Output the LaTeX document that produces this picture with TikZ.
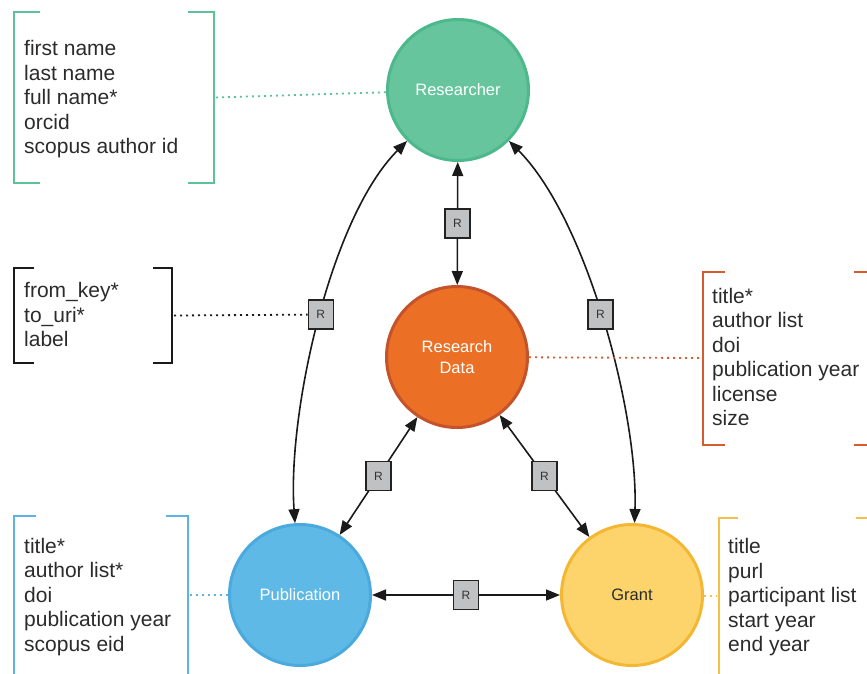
\documentclass[tikz,border=0pt]{standalone}
\usepackage{fontspec}
\setmainfont{Liberation Sans}
\usetikzlibrary{arrows.meta}
\definecolor{gfill}{HTML}{67C59D}
\definecolor{gline}{HTML}{4CB88B}
\definecolor{gbr}{HTML}{5CC29A}
\definecolor{ofill}{HTML}{EC6F26}
\definecolor{oline}{HTML}{C4532B}
\definecolor{obr}{HTML}{D65B2D}
\definecolor{bfill}{HTML}{5EB9E7}
\definecolor{bline}{HTML}{4AA9DD}
\definecolor{bbr}{HTML}{5FB3E2}
\definecolor{yfill}{HTML}{FCD46B}
\definecolor{yline}{HTML}{F3B733}
\definecolor{ybr}{HTML}{F5C04A}
\definecolor{rgray}{HTML}{C0C1C3}
\definecolor{rline}{HTML}{222222}
\definecolor{rtext}{HTML}{333333}
\definecolor{arrowc}{HTML}{1A1A1A}
\definecolor{textc}{HTML}{2B2B2B}
\begin{document}
\begin{tikzpicture}[x=1pt,y=1pt,
  entity/.style={circle, minimum size=141pt, line width=3pt, inner sep=0pt,
    font=\fontsize{16.5}{21}\selectfont, align=center},
  rbox/.style={draw=rline, fill=rgray, line width=1.4pt, minimum width=25pt,
    minimum height=29pt, inner sep=0pt, font=\fontsize{12}{12}\selectfont, text=rtext},
  rel/.style={line width=1.6pt, draw=arrowc,
    {Triangle[length=14pt,width=11pt]}-{Triangle[length=14pt,width=11pt]}},
  attr/.style={anchor=base west, align=left, inner sep=0pt,
    font=\fontsize{21}{24.5}\selectfont, text=textc},
  brk/.style={line width=2pt},
  dots/.style={line width=1.8pt, dash pattern=on 2pt off 4pt}]
\useasboundingbox (0,0) rectangle (867,-673);

% entities
\node[entity, fill=gfill, draw=gline, text=white] (res) at (458,-90) {Researcher};
\node[entity, fill=ofill, draw=oline, text=white] (rd) at (457,-357) {Research\\Data};
\node[entity, fill=bfill, draw=bline, text=white] (pub) at (300,-595) {Publication};
\node[entity, fill=yfill, draw=yline, text=textc] (grant) at (632,-595) {Grant};

% relations
\draw[rel] (res) -- node[rbox] (r1) {R} (rd);
\draw[rel] (res) to[out=225,in=94,looseness=0.7] node[rbox,pos=0.487] (r2) {R} (pub);
\draw[rel] (res) to[out=-45,in=88,looseness=0.7] node[rbox,pos=0.487] (r3) {R} (grant);
\draw[rel] (rd) -- node[rbox] (r4) {R} (pub);
\draw[rel] (rd) -- node[rbox] (r5) {R} (grant);
\draw[rel] (pub) -- node[rbox] (r6) {R} (grant);

% researcher attributes
\draw[brk, draw=gbr] (40,-12) -- (14,-12) -- (14,-183) -- (40,-183);
\draw[brk, draw=gbr] (188,-12) -- (214,-12) -- (214,-183) -- (188,-183);
\coordinate (resb) at (216,-97.5);
\draw[dots, draw=gbr] (resb) -- (res);
\node[attr] (restext) at (24,-153.5) {first name\\last name\\full name*\\orcid\\scopus author id};

% relation attributes
\draw[brk, draw=arrowc] (34,-268) -- (14,-268) -- (14,-363) -- (34,-363);
\draw[brk, draw=arrowc] (153,-268) -- (172,-268) -- (172,-363) -- (153,-363);
\coordinate (relb) at (174,-315.5);
\draw[dots, draw=arrowc] (relb) -- (r2);
\node[attr] (reltext) at (24,-346.7) {from\_key*\\to\_uri*\\label};

% research data attributes
\draw[brk, draw=obr] (725,-272) -- (703,-272) -- (703,-445) -- (725,-445);
\draw[brk, draw=obr] (854,-272) -- (876,-272) -- (876,-445) -- (854,-445);
\coordinate (rdb) at (701,-358);
\draw[dots, draw=obr] (rd) -- (rdb);
\node[attr] (rdtext) at (712,-425.7) {title*\\author list\\doi\\publication year\\license\\size};

% publication attributes
\draw[brk, draw=bbr] (36,-516) -- (14,-516) -- (14,-690);
\draw[brk, draw=bbr] (166,-516) -- (188,-516) -- (188,-690);
\coordinate (pubb) at (190,-595);
\draw[dots, draw=bbr] (pubb) -- (pub);
\node[attr] (pubtext) at (24,-651) {title*\\author list*\\doi\\publication year\\scopus eid};

% grant attributes
\draw[brk, draw=ybr] (738,-518) -- (719,-518) -- (719,-690);
\draw[brk, draw=ybr] (856,-518) -- (880,-518) -- (880,-690);
\coordinate (grb) at (717,-596);
\draw[dots, draw=ybr] (grant) -- (grb);
\node[attr] (grtext) at (728,-651.7) {title\\purl\\participant list\\start year\\end year};
\end{tikzpicture}
\end{document}
